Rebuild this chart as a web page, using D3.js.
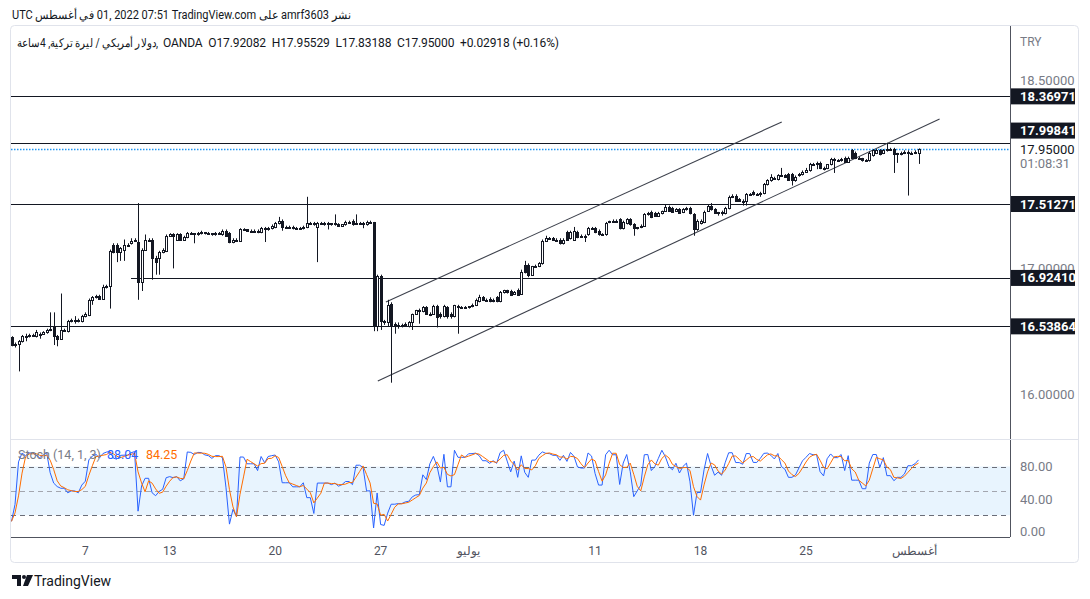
<!DOCTYPE html>
<html><head><meta charset="utf-8">
<script src="https://cdn.jsdelivr.net/npm/d3@7"></script>
<style>
html,body{margin:0;padding:0;background:#fff;}
svg{display:block;font-family:Roboto,"Noto Sans","Liberation Sans",sans-serif;}
</style></head>
<body>
<svg id="chart" width="1090" height="599"></svg>
<script>
// ---- DATA (USD/TRY, 4h, OANDA) ----
const opens = [
16.45,16.39,16.40,16.42,16.45,16.46,16.47,16.46,16.47,16.48,16.49,16.51,16.54,16.46,16.44,16.51,16.50,16.58,16.59,16.59,
16.58,16.62,16.63,16.75,16.77,16.78,16.76,16.85,16.86,17.19,17.19,17.13,17.15,17.19,17.20,17.22,17.21,16.89,17.15,17.23,
17.23,17.08,17.08,17.13,17.14,17.26,17.27,17.23,17.27,17.23,17.25,17.28,17.28,17.27,17.28,17.29,17.28,17.28,17.27,17.28,
17.27,17.30,17.28,17.21,17.23,17.22,17.31,
17.31,17.30,17.30,17.30,17.29,17.32,17.31,17.32,17.33,17.36,17.38,17.33,17.33,17.33,17.32,17.32,17.32,17.33,17.36,17.35,
17.33,17.36,17.35,17.36,17.36,17.35,17.35,17.34,17.35,17.37,17.38,17.35,17.36,17.36,17.35,17.37,17.37,16.54,16.94,16.58,
16.57,16.72,16.56,16.54,16.55,16.55,16.54,16.57,16.64,16.67,16.66,16.69,16.64,16.64,16.70,16.64,16.62,16.69,16.64,16.62,
16.70,16.69,16.69,16.69,16.70,16.71,
16.74,16.77,16.75,16.76,16.74,16.77,16.74,16.81,16.83,16.82,16.80,16.83,16.80,17.03,17.03,16.95,17.02,17.02,17.04,17.22,
17.24,17.24,17.23,17.23,17.20,17.29,17.24,17.23,17.29,17.26,17.26,17.27,17.32,17.32,17.30,17.27,
17.27,17.37,17.38,17.38,17.39,17.32,17.36,17.39,17.35,
17.32,17.33,17.34,17.43,17.45,17.44,17.42,17.44,17.46,17.49,17.48,17.46,17.47,17.45,17.47,17.48,17.43,17.31,17.36,17.37,
17.46,17.50,17.47,17.44,17.45,17.44,17.48,17.57,17.58,17.55,17.54,17.54,17.59,17.61,17.59,
17.60,17.60,17.67,17.70,17.72,17.71,17.74,17.74,17.75,17.75,17.70,17.74,17.75,17.77,17.78,17.83,17.83,17.84,17.80,17.80,
17.83,17.87,17.86,
17.86,17.88,17.85,17.94,17.92,17.88,17.88,17.86,17.86,17.90,17.92,17.94,17.92,17.94,17.95,17.95,17.91,17.92,17.92,17.93,
17.92,17.92,17.92082];
const highs = [
16.46,16.41,16.43,16.47,16.48,16.48,16.48,16.51,16.49,16.50,16.52,16.65,16.65,16.47,16.80,16.52,16.59,16.60,16.62,16.60,
16.63,16.65,16.76,16.78,16.79,16.79,16.87,16.87,17.15,17.20,17.20,17.17,17.23,17.20,17.24,17.24,17.52,17.16,17.27,17.24,
17.24,17.10,17.14,17.16,17.27,17.28,17.28,17.28,17.28,17.26,17.29,17.29,17.28,17.29,17.30,17.29,17.29,17.28,17.29,17.29,
17.31,17.31,17.29,17.24,17.24,17.32,17.32,
17.31,17.31,17.31,17.31,17.33,17.33,17.33,17.35,17.37,17.41,17.39,17.34,17.34,17.34,17.33,17.33,17.34,17.57,17.37,17.37,
17.37,17.37,17.37,17.37,17.36,17.43,17.36,17.35,17.38,17.38,17.39,17.43,17.37,17.37,17.38,17.38,17.37,16.95,16.95,16.59,
16.75,16.73,16.57,16.57,16.56,16.57,16.58,16.64,16.67,16.68,16.70,16.70,16.65,16.71,16.71,16.65,16.71,16.70,16.65,16.71,
16.71,16.70,16.70,16.70,16.72,16.76,
16.79,16.78,16.76,16.77,16.76,16.78,16.82,16.83,16.83,16.83,16.82,16.84,16.99,17.06,17.04,17.02,17.03,17.05,17.23,17.26,
17.25,17.25,17.24,17.24,17.24,17.30,17.30,17.33,17.30,17.27,17.27,17.33,17.33,17.33,17.31,17.28,
17.37,17.38,17.39,17.39,17.40,17.38,17.40,17.40,17.36,
17.33,17.35,17.44,17.45,17.46,17.45,17.45,17.46,17.51,17.50,17.49,17.48,17.48,17.48,17.49,17.49,17.44,17.39,17.39,17.46,
17.51,17.52,17.48,17.45,17.46,17.49,17.58,17.59,17.59,17.56,17.55,17.60,17.60,17.62,17.60,
17.61,17.68,17.71,17.75,17.73,17.75,17.80,17.75,17.76,17.76,17.74,17.76,17.78,17.80,17.84,17.84,17.85,17.85,17.81,17.83,
17.88,17.88,17.87,
17.88,17.89,17.89,17.95,17.93,17.89,17.88,17.87,17.93,17.95,17.95,17.95,17.95,18.00,17.96,17.96,17.92,17.93,17.94,17.94,
17.93,17.94,17.95529];
const lows = [
16.38,16.37,16.18,16.41,16.42,16.45,16.46,16.45,16.44,16.47,16.48,16.50,16.39,16.38,16.43,16.50,16.49,16.57,16.56,16.57,
16.57,16.61,16.62,16.71,16.76,16.76,16.75,16.84,16.68,17.12,17.05,17.06,17.06,17.18,17.19,17.21,16.75,16.82,17.14,17.22,
16.91,16.95,16.95,17.12,17.13,17.25,17.00,17.22,17.22,17.22,17.24,17.27,17.20,17.26,17.27,17.27,17.27,17.26,17.26,17.27,
17.26,17.25,17.20,17.20,17.21,17.21,17.30,
17.29,17.29,17.29,17.28,17.28,17.21,17.30,17.31,17.32,17.35,17.30,17.32,17.32,17.31,17.31,17.31,17.31,17.32,17.35,17.34,
17.05,17.35,17.34,17.31,17.34,17.34,17.33,17.33,17.34,17.36,17.34,17.35,17.35,17.32,17.34,17.36,16.50,16.50,16.51,16.55,
16.54,16.09,16.48,16.52,16.53,16.54,16.53,16.51,16.63,16.56,16.65,16.63,16.62,16.63,16.53,16.60,16.61,16.60,16.60,16.61,
16.48,16.68,16.68,16.68,16.69,16.70,
16.73,16.74,16.74,16.73,16.73,16.73,16.73,16.80,16.80,16.78,16.79,16.78,16.79,16.96,16.93,16.94,17.01,17.01,17.03,17.21,
17.23,17.22,17.22,17.19,17.19,17.22,17.23,17.22,17.24,17.25,17.21,17.26,17.31,17.28,17.26,17.26,
17.26,17.36,17.37,17.37,17.31,17.31,17.35,17.34,17.26,
17.31,17.32,17.33,17.42,17.40,17.41,17.41,17.43,17.45,17.45,17.45,17.45,17.44,17.44,17.46,17.43,17.26,17.30,17.35,17.36,
17.45,17.46,17.44,17.42,17.42,17.43,17.47,17.56,17.53,17.53,17.50,17.50,17.58,17.58,17.58,
17.57,17.59,17.66,17.69,17.71,17.70,17.73,17.72,17.70,17.66,17.69,17.73,17.74,17.76,17.77,17.82,17.79,17.79,17.78,17.79,
17.82,17.76,17.85,
17.85,17.84,17.84,17.87,17.87,17.87,17.85,17.85,17.85,17.89,17.91,17.90,17.91,17.93,17.94,17.76,17.84,17.90,17.91,17.58,
17.91,17.91,17.83188];
const closes = [
16.39,16.40,16.42,16.46,16.46,16.47,16.47,16.49,16.48,16.49,16.51,16.52,16.46,16.44,16.51,16.51,16.58,16.59,16.59,16.58,
16.62,16.64,16.75,16.77,16.78,16.76,16.85,16.86,17.14,17.13,17.13,17.16,17.19,17.19,17.22,17.23,16.89,17.15,17.23,17.23,
17.08,17.05,17.13,17.15,17.26,17.27,17.26,17.27,17.23,17.25,17.28,17.28,17.27,17.28,17.29,17.28,17.28,17.27,17.28,17.28,
17.30,17.26,17.21,17.23,17.22,17.31,17.31,
17.30,17.30,17.30,17.29,17.32,17.31,17.32,17.34,17.36,17.38,17.33,17.33,17.33,17.32,17.32,17.32,17.33,17.36,17.36,17.36,
17.36,17.36,17.36,17.36,17.35,17.36,17.34,17.35,17.37,17.37,17.35,17.36,17.36,17.35,17.37,17.37,16.54,16.94,16.58,16.57,
16.71,16.54,16.54,16.55,16.55,16.56,16.57,16.64,16.67,16.67,16.69,16.64,16.64,16.70,16.61,16.62,16.70,16.62,16.62,16.71,
16.69,16.69,16.69,16.70,16.71,16.75,
16.77,16.75,16.75,16.74,16.75,16.74,16.81,16.83,16.81,16.79,16.81,16.79,16.97,16.97,16.95,17.02,17.02,17.04,17.22,17.24,
17.24,17.23,17.23,17.20,17.23,17.23,17.29,17.30,17.25,17.26,17.26,17.32,17.32,17.29,17.27,17.27,
17.36,17.38,17.38,17.38,17.32,17.37,17.39,17.35,17.32,
17.33,17.34,17.43,17.44,17.41,17.42,17.44,17.46,17.49,17.46,17.45,17.47,17.44,17.47,17.48,17.44,17.31,17.38,17.38,17.45,
17.50,17.47,17.44,17.45,17.44,17.48,17.57,17.58,17.54,17.54,17.54,17.59,17.59,17.59,17.59,
17.60,17.67,17.70,17.73,17.72,17.74,17.74,17.73,17.70,17.70,17.73,17.75,17.77,17.78,17.83,17.83,17.84,17.80,17.79,17.83,
17.87,17.86,17.86,
17.87,17.85,17.88,17.88,17.88,17.88,17.86,17.86,17.92,17.94,17.94,17.91,17.94,17.95,17.95,17.91,17.92,17.92,17.93,17.92,
17.92,17.93,17.95];

// horizontal levels drawn on the chart, with the candle index where each begins
const levelPrices = [18.36971, 17.99841, 17.51271, 16.92410, 16.53864];
const levelStart  = [0, 0, 0, 34, 0];
// channel lines: [candleIndex, price] end points
const channelUpper = [[106.5, 16.732], [219.1, 18.166]];
const channelLower = [[104.2, 16.104], [264.0, 18.190]];
const lastPrice = 17.95000;
const priceTicks = [18.5, 17.0, 16.0];
const stochTicks = [80, 40, 0];
const stochLevels = [80, 50, 20];
const timeTickIndex = [21, 45, 75, 105, 130, 166, 196, 226, 257];
const timeTickLabels = ["7", "13", "20", "27", "يوليو", "11", "18", "25", "أغسطس"];

// ---- RENDER ----
const N = closes.length;
const svg = d3.select("#chart");
const ink = "#131722";

const x = d3.scaleLinear().domain([0, N - 1]).range([11.5, 918.5]);
const y = d3.scaleLinear().domain([16, 18.5]).range([394, 80]);
const ys = d3.scaleLinear().domain([0, 100]).range([531.5, 450.25]);

// stochastic (14,1,3) derived from the candles
const kLine = closes.map((c, i) => {
  const lo = d3.min(lows.slice(Math.max(0, i - 13), i + 1));
  const hi = d3.max(highs.slice(Math.max(0, i - 13), i + 1));
  return hi === lo ? 50 : 100 * (c - lo) / (hi - lo);
});
const dLine = kLine.map((k, i) => d3.mean(kLine.slice(Math.max(0, i - 2), i + 1)));

// header
svg.append("text").attr("x", 12).attr("y", 19).attr("fill", ink).attr("font-size", 12)
  .attr("textLength", 339).attr("lengthAdjust", "spacingAndGlyphs")
  .text("UTC \u2067في أغسطس\u2069 01, 2022 07:51 TradingView.com \u2067على\u2069 amrf3603 \u2067نشر\u2069");

// frame
svg.append("rect").attr("x", 10.5).attr("y", 25.5).attr("width", 1068).attr("height", 537)
  .attr("rx", 4).attr("fill", "none").attr("stroke", "#e0e3eb");

const defs = svg.append("defs");
defs.append("clipPath").attr("id", "mainClip").append("rect")
  .attr("x", 11).attr("y", 26).attr("width", 999).attr("height", 412);
defs.append("clipPath").attr("id", "stClip").append("rect")
  .attr("x", 11).attr("y", 440).attr("width", 999).attr("height", 96);

// legend
svg.append("text").attr("x", 17).attr("y", 47).attr("fill", ink).attr("font-size", 12)
  .attr("textLength", 141).attr("lengthAdjust", "spacingAndGlyphs")
  .text("دولار أمريكي / ليرة تركية, 4ساعة,");
svg.append("text").attr("x", 163).attr("y", 47).attr("fill", ink).attr("font-size", 12)
  .attr("textLength", 396).attr("lengthAdjust", "spacing").attr("xml:space", "preserve")
  .text("OANDA  O17.92082  H17.95529  L17.83188  C17.95000  +0.02918 (+0.16%)");

const main = svg.append("g").attr("clip-path", "url(#mainClip)");

// horizontal levels
main.selectAll("line.level").data(levelPrices).join("line").attr("class", "level")
  .attr("x1", (d, i) => levelStart[i] === 0 ? 11 : x(levelStart[i]))
  .attr("x2", 1010)
  .attr("y1", d => Math.round(y(d)) + 0.5).attr("y2", d => Math.round(y(d)) + 0.5)
  .attr("stroke", ink).attr("stroke-width", 1);

// channel
[channelUpper, channelLower].forEach(seg => {
  main.append("line")
    .attr("x1", x(seg[0][0])).attr("y1", y(seg[0][1]))
    .attr("x2", x(seg[1][0])).attr("y2", y(seg[1][1]))
    .attr("stroke", "#3d414c").attr("stroke-width", 1.1);
});

// last price dotted line
main.append("line").attr("x1", 11).attr("x2", 1010)
  .attr("y1", Math.round(y(lastPrice)) + 0.5).attr("y2", Math.round(y(lastPrice)) + 0.5)
  .attr("stroke", "#2196f3").attr("stroke-width", 1.5).attr("stroke-dasharray", "1.5,1.5");

// candles
const idx = d3.range(N);
const cg = main.append("g");
cg.selectAll("line.wick").data(idx).join("line").attr("class", "wick")
  .attr("x1", i => Math.round(x(i)) + 0.5).attr("x2", i => Math.round(x(i)) + 0.5)
  .attr("y1", i => y(highs[i])).attr("y2", i => y(lows[i]))
  .attr("stroke", ink).attr("stroke-width", 1);
cg.selectAll("rect.body").data(idx).join("rect").attr("class", "body")
  .each(function (i) {
    const up = closes[i] >= opens[i];
    const top = Math.round(y(Math.max(opens[i], closes[i])));
    const bot = Math.round(y(Math.min(opens[i], closes[i])));
    const cx = Math.round(x(i));
    const s = d3.select(this);
    if (up) {
      s.attr("x", cx - 0.5).attr("width", 2).attr("y", top + 0.5).attr("height", Math.max(1, bot - top))
        .attr("fill", "#fff").attr("stroke", ink).attr("stroke-width", 1);
    } else {
      s.attr("x", cx - 1).attr("width", 3).attr("y", top).attr("height", Math.max(1, bot - top + 1))
        .attr("fill", ink);
    }
  });

// price axis
svg.append("line").attr("x1", 1010.5).attr("x2", 1010.5).attr("y1", 26).attr("y2", 537)
  .attr("stroke", "#50535e");
svg.append("text").attr("x", 1020).attr("y", 46).attr("fill", "#787b86").attr("font-size", 12).text("TRY");
svg.selectAll("text.ptick").data(priceTicks).join("text").attr("class", "ptick")
  .attr("x", 1020).attr("y", d => y(d) + 4.5).attr("fill", "#787b86").attr("font-size", 13)
  .text(d => d.toFixed(5));

// level labels (boxes); the 17.99841 label is pushed up to clear the last-price label
const boxY = levelPrices.map(p => y(p));
boxY[1] = y(lastPrice) - 18.5;
const lb = svg.selectAll("g.lbl").data(levelPrices).join("g").attr("class", "lbl")
  .attr("transform", (d, i) => `translate(1011,${boxY[i]})`);
lb.append("rect").attr("x", 0).attr("y", -8).attr("width", 64).attr("height", 16).attr("fill", ink);
lb.append("text").attr("x", 9).attr("y", 4.5).attr("fill", "#fff").attr("font-size", 13)
  .attr("font-weight", "bold").text(d => d.toFixed(5));

svg.append("text").attr("x", 1020).attr("y", y(lastPrice) + 4.5).attr("fill", ink).attr("font-size", 13)
  .text(lastPrice.toFixed(5));
svg.append("text").attr("x", 1020).attr("y", y(lastPrice) + 18.5).attr("fill", "#787b86").attr("font-size", 13)
  .text("01:08:31");

// pane separator
svg.append("line").attr("x1", 11).attr("x2", 1078).attr("y1", 439.5).attr("y2", 439.5).attr("stroke", "#e0e3eb");

// stochastic pane
const st = svg.append("g").attr("clip-path", "url(#stClip)");
st.append("rect").attr("x", 11).attr("width", 999)
  .attr("y", ys(80)).attr("height", ys(20) - ys(80)).attr("fill", "rgba(33,150,243,0.1)");
st.selectAll("line.lvl").data(stochLevels).join("line").attr("class", "lvl")
  .attr("x1", 11).attr("x2", 1010)
  .attr("y1", d => Math.round(ys(d)) + 0.5).attr("y2", d => Math.round(ys(d)) + 0.5)
  .attr("stroke", d => d === 50 ? "#a3a6af" : "#6a6d78").attr("stroke-dasharray", "5,4");
const ln = d3.line().x((d, i) => x(i)).y(d => ys(d));
st.append("path").datum(kLine).attr("d", ln).attr("fill", "none").attr("stroke", "#2962ff").attr("stroke-width", 1);
st.append("path").datum(dLine).attr("d", ln).attr("fill", "none").attr("stroke", "#ff6d00").attr("stroke-width", 1);

svg.append("text").attr("x", 18).attr("y", 459).attr("font-size", 12.5).attr("fill", "#787b86").text("Stoch (14, 1, 3)");
svg.append("text").attr("x", 107).attr("y", 459).attr("font-size", 12.5).attr("fill", "#2962ff").text("88.04");
svg.append("text").attr("x", 146).attr("y", 459).attr("font-size", 12.5).attr("fill", "#ff6d00").text("84.25");

svg.selectAll("text.stick").data(stochTicks).join("text").attr("class", "stick")
  .attr("x", 1020).attr("y", d => ys(d) + 4.5).attr("fill", "#787b86").attr("font-size", 13)
  .text(d => d.toFixed(2));

// time axis
svg.append("line").attr("x1", 11).attr("x2", 1010).attr("y1", 537.5).attr("y2", 537.5).attr("stroke", "#50535e");
svg.selectAll("text.tt").data(timeTickIndex).join("text").attr("class", "tt")
  .attr("x", d => x(d)).attr("y", 555).attr("text-anchor", "middle")
  .attr("fill", "#50535e").attr("font-size", 12)
  .text((d, i) => timeTickLabels[i]);

// footer logo
const logo = svg.append("g").attr("transform", "translate(12,575)");
logo.append("path").attr("d", "M0,0 H9 V11 H5 V4 H0 Z").attr("fill", ink);
logo.append("circle").attr("cx", 12).attr("cy", 2).attr("r", 2).attr("fill", ink);
logo.append("path").attr("d", "M15,0 H21 L16,11 H11 Z").attr("fill", ink);
svg.append("text").attr("x", 34).attr("y", 586).attr("fill", ink).attr("font-size", 14).text("TradingView");
</script>
</body></html>
